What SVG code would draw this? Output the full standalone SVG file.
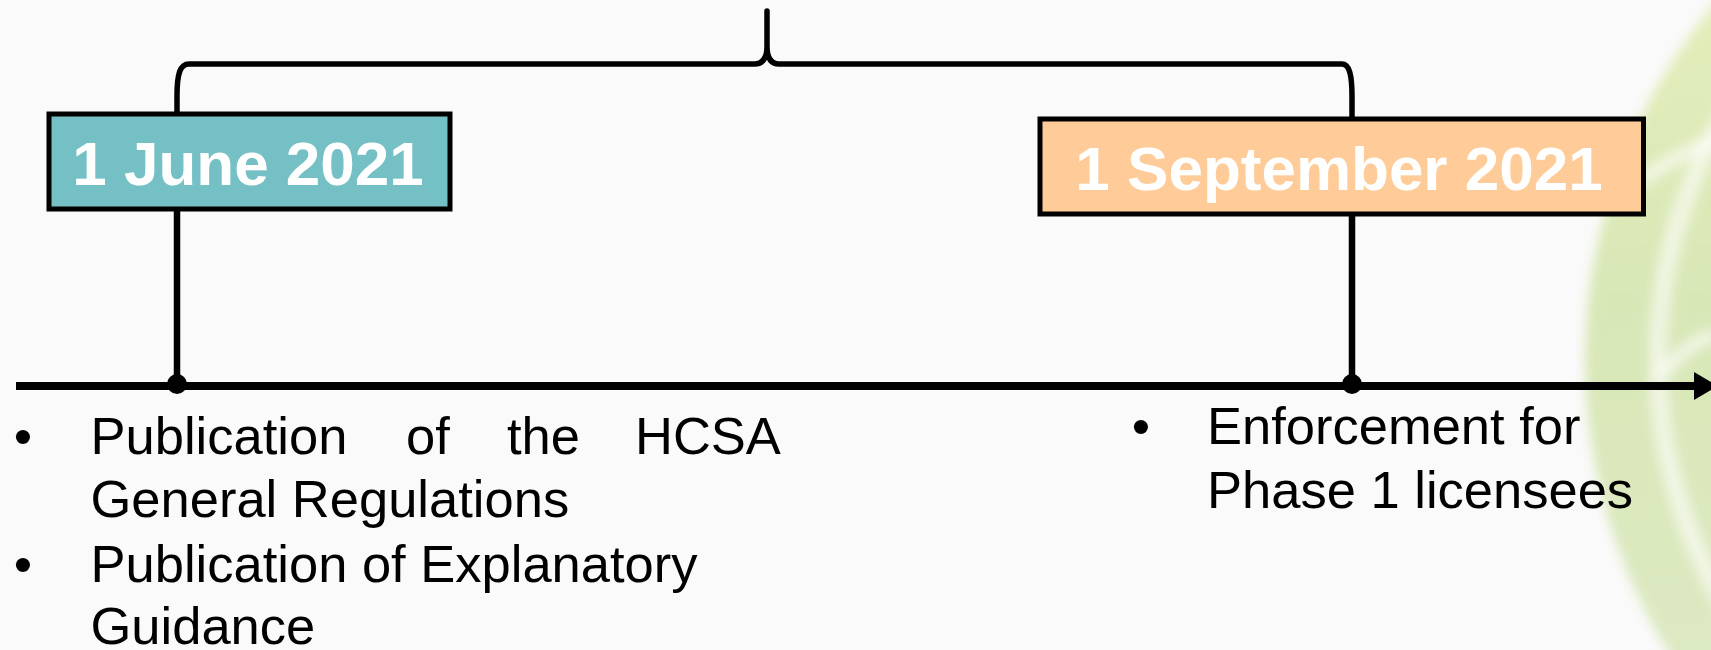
<svg xmlns="http://www.w3.org/2000/svg" width="1711" height="650" viewBox="0 0 1711 650">
  <style>
    .date { font-family: "Liberation Sans", Arial, sans-serif; font-weight: bold; font-size: 62px; fill: #FFFFFF; text-anchor: middle; }
    .body { font-family: "Liberation Sans", Arial, sans-serif; font-size: 52.5px; fill: #000000; }
    .bullet { font-family: "Liberation Sans", Arial, sans-serif; font-size: 52.5px; fill: #000000; text-anchor: middle; }
    .box { stroke: #000000; stroke-width: 5; }
    .line { fill: none; stroke: #000000; stroke-linecap: round; stroke-linejoin: round; }
  </style>
  <defs>
    <linearGradient id="leafGrad" x1="0" y1="0" x2="0" y2="1">
      <stop offset="0" stop-color="#EAF1BC"/>
      <stop offset="0.45" stop-color="#D8E7B6"/>
      <stop offset="1" stop-color="#E0EBCB"/>
    </linearGradient>
    <filter id="soft" x="-20%" y="-20%" width="140%" height="140%">
      <feGaussianBlur stdDeviation="6"/>
    </filter>
  </defs>

  <!-- page background -->
  <rect x="0" y="0" width="1711" height="650" fill="#FAFAFA"/>

  <!-- faint decorative globe on the right edge -->
  <g id="decor" filter="url(#soft)">
    <circle cx="2140" cy="360" r="555" fill="url(#leafGrad)"/>
    <circle cx="2140" cy="360" r="482" fill="none" stroke="#FFFFFF" stroke-opacity="0.6" stroke-width="18"/>
    <path d="M1640,182 C1665,162 1690,150 1715,140" fill="none" stroke="#FFFFFF" stroke-opacity="0.6" stroke-width="14"/>
    <path d="M1662,374 C1680,352 1698,340 1715,334" fill="none" stroke="#FFFFFF" stroke-opacity="0.6" stroke-width="14"/>
  </g>

  <!-- connectors: brace, date stems and timeline axis -->
  <g id="connectors">
    <path class="line" stroke-width="5.5" d="M177,112 L177,96 C177,74 180,64 189,64 L755,64 C763,64 767,58 767,46 L767,11 M767,46 C767,58 771,64 779,64 L1342,64 C1349,64 1352,74 1352,96 L1352,117"/>
    <line class="line" stroke-width="6.5" x1="177" y1="211" x2="177" y2="386"/>
    <line class="line" stroke-width="6.5" x1="1352" y1="216" x2="1352" y2="386"/>
    <line x1="16" y1="386" x2="1696" y2="386" stroke="#000000" stroke-width="8"/>
    <polygon points="1694,372 1718,386 1694,400" fill="#000000"/>
    <circle cx="177" cy="384" r="10" fill="#000000"/>
    <circle cx="1352" cy="384" r="10" fill="#000000"/>
  </g>

  <!-- milestone 1 -->
  <g id="node-june">
    <rect class="box" x="49" y="114" width="401" height="95" fill="#75C0C5"/>
    <text class="date" x="248" y="185">1 June 2021</text>
  </g>

  <!-- milestone 2 -->
  <g id="node-september">
    <rect class="box" x="1040" y="119" width="603.5" height="95" fill="#FFCC99"/>
    <text class="date" x="1339" y="190">1 September 2021</text>
  </g>

  <!-- notes under milestone 1 -->
  <g id="notes-june">
    <text class="bullet" x="23" y="454">•</text>
    <text class="body" y="454"><tspan x="90.5">Publication</tspan><tspan x="406">of</tspan><tspan x="507">the</tspan><tspan x="635">HCSA</tspan></text>
    <text class="body" x="90.5" y="517">General Regulations</text>
    <text class="bullet" x="23" y="582">•</text>
    <text class="body" x="90.5" y="582">Publication of Explanatory</text>
    <text class="body" x="90.5" y="644">Guidance</text>
  </g>

  <!-- notes under milestone 2 -->
  <g id="notes-september">
    <text class="bullet" x="1141" y="444">•</text>
    <text class="body" x="1207" y="444">Enforcement for</text>
    <text class="body" x="1207" y="508">Phase 1 licensees</text>
  </g>
</svg>
